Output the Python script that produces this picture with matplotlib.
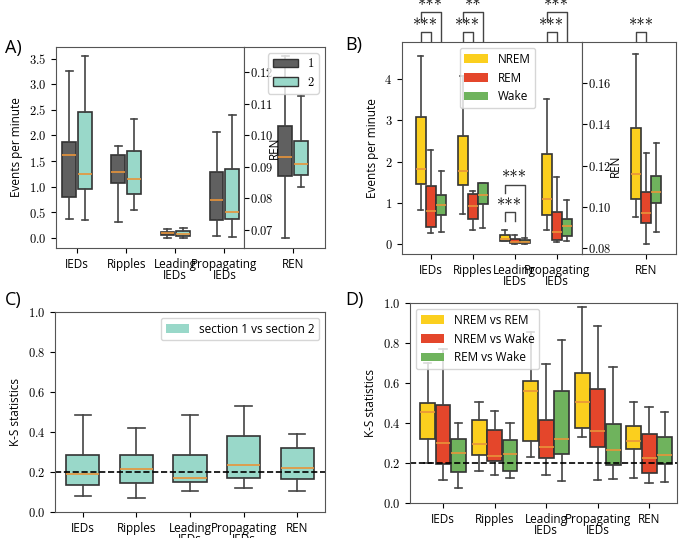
import matplotlib.pyplot as plt
from matplotlib.patches import Patch

plt.rcParams['font.family'] = ['Open Sans', 'DejaVu Sans']
plt.rcParams['axes.formatter.use_mathtext'] = True

W, H = 680, 538
GREY = '#606060'
TEAL = '#99d8c9'
YEL = '#fbcf1e'
RED = '#e4462b'
GRN = '#6fb35d'
MED = '#e8943a'

# (whislo, q1, med, q3, whishi)
cats = ['IEDs', 'Ripples', 'Leading\nIEDs', 'Propagating\nIEDs']
cats_ks = cats + ['REN']

a_sec1 = [(0.37, 0.80, 1.62, 1.88, 3.27), (0.30, 1.07, 1.29, 1.62, 1.80),
          (0.00, 0.05, 0.10, 0.12, 0.17), (0.03, 0.34, 0.73, 1.29, 2.06)]
a_sec2 = [(0.35, 0.95, 1.25, 2.46, 3.55), (0.55, 0.85, 1.14, 1.70, 2.33),
          (0.00, 0.04, 0.08, 0.13, 0.20), (0.02, 0.37, 0.50, 1.35, 2.41)]
a_ren1 = (0.0675, 0.087, 0.093, 0.103, 0.125)
a_ren2 = (0.0835, 0.0875, 0.091, 0.098, 0.1125)

b_nrem = [(0.82, 1.45, 1.82, 3.07, 4.56), (0.72, 1.43, 1.78, 2.62, 4.08),
          (0.07, 0.08, 0.12, 0.22, 0.35), (0.35, 0.70, 1.10, 2.18, 3.52)]
b_rem = [(0.27, 0.42, 0.80, 1.42, 2.28), (0.33, 0.60, 0.92, 1.22, 1.28),
         (0.00, 0.02, 0.06, 0.12, 0.22), (0.05, 0.10, 0.30, 0.77, 1.62)]
b_wake = [(0.30, 0.70, 0.95, 1.20, 1.78), (0.40, 0.97, 1.20, 1.47, 1.47),
          (0.00, 0.03, 0.06, 0.09, 0.15), (0.08, 0.19, 0.45, 0.60, 1.07)]
b_ren = [(0.095, 0.104, 0.116, 0.138, 0.174), (0.082, 0.092, 0.097, 0.107, 0.126),
         (0.088, 0.102, 0.107, 0.115, 0.131)]

c_ks = [(0.08, 0.135, 0.19, 0.285, 0.485), (0.07, 0.145, 0.215, 0.285, 0.42),
        (0.105, 0.15, 0.17, 0.285, 0.485), (0.12, 0.17, 0.235, 0.38, 0.53),
        (0.105, 0.165, 0.22, 0.32, 0.39)]

d_nr = [(0.20, 0.32, 0.455, 0.50, 0.70), (0.16, 0.24, 0.295, 0.415, 0.505),
        (0.23, 0.31, 0.56, 0.61, 0.855), (0.33, 0.375, 0.505, 0.65, 0.98),
        (0.125, 0.27, 0.31, 0.385, 0.505)]
d_nw = [(0.115, 0.195, 0.30, 0.49, 0.77), (0.14, 0.21, 0.235, 0.365, 0.46),
        (0.14, 0.225, 0.28, 0.415, 0.695), (0.115, 0.28, 0.36, 0.57, 0.885),
        (0.10, 0.15, 0.225, 0.345, 0.48)]
d_rw = [(0.075, 0.155, 0.25, 0.32, 0.40), (0.125, 0.16, 0.245, 0.315, 0.40),
        (0.11, 0.245, 0.32, 0.56, 0.815), (0.12, 0.19, 0.265, 0.395, 0.68),
        (0.105, 0.195, 0.24, 0.33, 0.455)]

fig = plt.figure(figsize=(W / 100, H / 100), dpi=100)


def px_axes(l, t, r, b):
    return fig.add_axes([l / W, 1 - b / H, (r - l) / W, (b - t) / H])


def boxes(ax, data, pos, width, color):
    stats = [dict(whislo=d[0], q1=d[1], med=d[2], q3=d[3], whishi=d[4], fliers=[])
             for d in data]
    ax.bxp(stats, positions=pos, widths=width, patch_artist=True, manage_ticks=False,
           boxprops=dict(facecolor=color or 'white', edgecolor='#333333', linewidth=1.2),
           whiskerprops=dict(color='#444444', linewidth=1.2),
           capprops=dict(color='#444444', linewidth=1.2),
           medianprops=dict(color=MED, linewidth=1.2))


def style(ax, labels, xs):
    ax.set_xticks(xs)
    ax.set_xticklabels(labels, fontsize=8.5, linespacing=0.85)
    ax.tick_params(axis='y', labelsize=9)
    for t in ax.get_yticklabels():
        t.set_fontfamily('cmr10')
    for s in ax.spines.values():
        s.set_color('#555555')


def ren_axis(ax):
    ax.tick_params(axis='y', direction='in', pad=-4, labelsize=9)
    for t in ax.get_yticklabels():
        t.set_fontfamily('cmr10')
        t.set_horizontalalignment('left')
    ax.set_xticks([0])
    ax.set_xticklabels(['REN'], fontsize=8.5)
    for s in ax.spines.values():
        s.set_color('#555555')


# ---- A
ax = px_axes(56, 47, 244, 248)
xs = range(len(cats))
boxes(ax, a_sec1, [x - 0.16 for x in xs], 0.28, GREY)
boxes(ax, a_sec2, [x + 0.16 for x in xs], 0.28, TEAL)
ax.set_xlim(-0.43, 3.4)
ax.set_ylim(-0.2, 3.73)
ax.set_ylabel('Events per minute', fontsize=8.5)
style(ax, cats, list(xs))
ax2 = px_axes(244, 47, 325, 248)
boxes(ax2, [a_ren1], [-0.16], 0.28, GREY)
boxes(ax2, [a_ren2], [0.16], 0.28, TEAL)
ax2.set_xlim(-1.0, 0.65)
ax2.set_ylim(0.0643, 0.1279)
ax2.set_yticks([0.07, 0.08, 0.09, 0.10, 0.11, 0.12])
ren_axis(ax2)
ax2.text(-0.38, 0.096, 'REN', rotation=90, fontsize=8.5, ha='center', va='center')
ax2.legend(handles=[Patch(facecolor=GREY, edgecolor='#333333', label='1'),
                    Patch(facecolor=TEAL, edgecolor='#333333', label='2')],
           loc='upper right', prop={'family': 'cmr10', 'size': 9})
fig.text(5 / W, 1 - 48 / H, 'A)', fontsize=13, va='center')

# ---- B
ax = px_axes(402, 42, 582, 254)
boxes(ax, b_nrem, [x - 0.24 for x in xs], 0.24, YEL)
boxes(ax, b_rem, list(xs), 0.24, RED)
boxes(ax, b_wake, [x + 0.24 for x in xs], 0.24, GRN)
ax.set_xlim(-0.69, 3.6)
ax.set_ylim(-0.24, 4.9)
ax.set_yticks([0, 1, 2, 3, 4])
ax.set_ylabel('Events per minute', fontsize=8.5)
style(ax, cats, list(xs))
ax.legend(handles=[Patch(facecolor=c, label=l) for c, l in
                   [(YEL, 'NREM'), (RED, 'REM'), (GRN, 'Wake')]],
          loc='upper center', bbox_to_anchor=(0.53, 1.0), fontsize=8.5)
ax3 = px_axes(582, 42, 676, 254)
boxes(ax3, b_ren, [-0.24, 0, 0.24], 0.24, None)
for p, c in zip(ax3.patches, [YEL, RED, GRN]):
    p.set_facecolor(c)
ax3.set_xlim(-1.52, 0.71)
ax3.set_ylim(0.0771, 0.1799)
ax3.set_yticks([0.08, 0.10, 0.12, 0.14, 0.16])
ren_axis(ax3)
ax3.text(-0.74, 0.12, 'REN', rotation=90, fontsize=8.5, ha='center', va='center')
fig.text(345 / W, 1 - 45 / H, 'B)', fontsize=13, va='center')


def fy(p):
    return 1 - p / H


def fx(ax_, x):
    return fig.transFigure.inverted().transform(ax_.transData.transform((x, 0)))[0]


def bracket(x1, x2, ytop, yl, yr, ax_):
    X1, X2 = fx(ax_, x1), fx(ax_, x2)
    fig.lines.append(plt.Line2D([X1, X1, X2, X2], [fy(yl), fy(ytop), fy(ytop), fy(yr)],
                                transform=fig.transFigure, color='#444444', lw=1))


def stars(x1, x2, ax_, yp, s='***'):
    fig.text((fx(ax_, x1) + fx(ax_, x2)) / 2, fy(yp + 2), s, ha='center', va='center',
             fontsize=12, fontfamily='cmr10')


for i, two in [(0, '***'), (1, '**'), (3, '***')]:
    bracket(i - 0.24, i, 32, 41, 41, ax)
    stars(i - 0.24, i, ax, 24)
    bracket(i - 0.24, i + 0.24, 12, 21, 41, ax)
    stars(i - 0.24, i + 0.24, ax, 4, two)
bracket(-0.24, 0, 32, 41, 41, ax3)
stars(-0.24, 0, ax3, 24)
ax.plot([1.76, 1.76, 2.0, 2.0], [0.56, 0.77, 0.77, 0.56], color='#444444', lw=1)
ax.text(1.88, 0.92, '***', ha='center', va='center', fontsize=12, fontfamily='cmr10')
ax.plot([1.76, 1.76, 2.24, 2.24], [1.23, 1.43, 1.43, 0.17], color='#444444', lw=1)
ax.text(2.0, 1.58, '***', ha='center', va='center', fontsize=12, fontfamily='cmr10')

# ---- C
ax = px_axes(55, 312, 325, 512)
xk = list(range(len(cats_ks)))
boxes(ax, c_ks, xk, 0.62, TEAL)
ax.axhline(0.2, color='black', ls='--', lw=1.2)
ax.set_xlim(-0.52, 4.52)
ax.set_ylim(0, 1)
ax.set_ylabel('K-S statistics', fontsize=8.5)
style(ax, cats_ks, xk)
ax.legend(handles=[Patch(facecolor=TEAL, label='section 1 vs section 2')],
          loc='upper right', fontsize=8.5)
fig.text(5 / W, 1 - 300 / H, 'C)', fontsize=13, va='center')

# ---- D
ax = px_axes(410, 303, 677, 503)
boxes(ax, d_nr, [x - 0.3 for x in xk], 0.29, YEL)
boxes(ax, d_nw, xk, 0.29, RED)
boxes(ax, d_rw, [x + 0.3 for x in xk], 0.29, GRN)
ax.axhline(0.2, color='black', ls='--', lw=1.2)
ax.set_xlim(-0.64, 4.54)
ax.set_ylim(0, 1)
ax.set_ylabel('K-S statistics', fontsize=8.5)
style(ax, cats_ks, xk)
ax.legend(handles=[Patch(facecolor=c, label=l) for c, l in
                   [(YEL, 'NREM vs REM'), (RED, 'NREM vs Wake'), (GRN, 'REM vs Wake')]],
          loc='upper left', fontsize=8.5)
fig.text(345 / W, 1 - 300 / H, 'D)', fontsize=13, va='center')

fig.savefig('out.png', dpi=100)
